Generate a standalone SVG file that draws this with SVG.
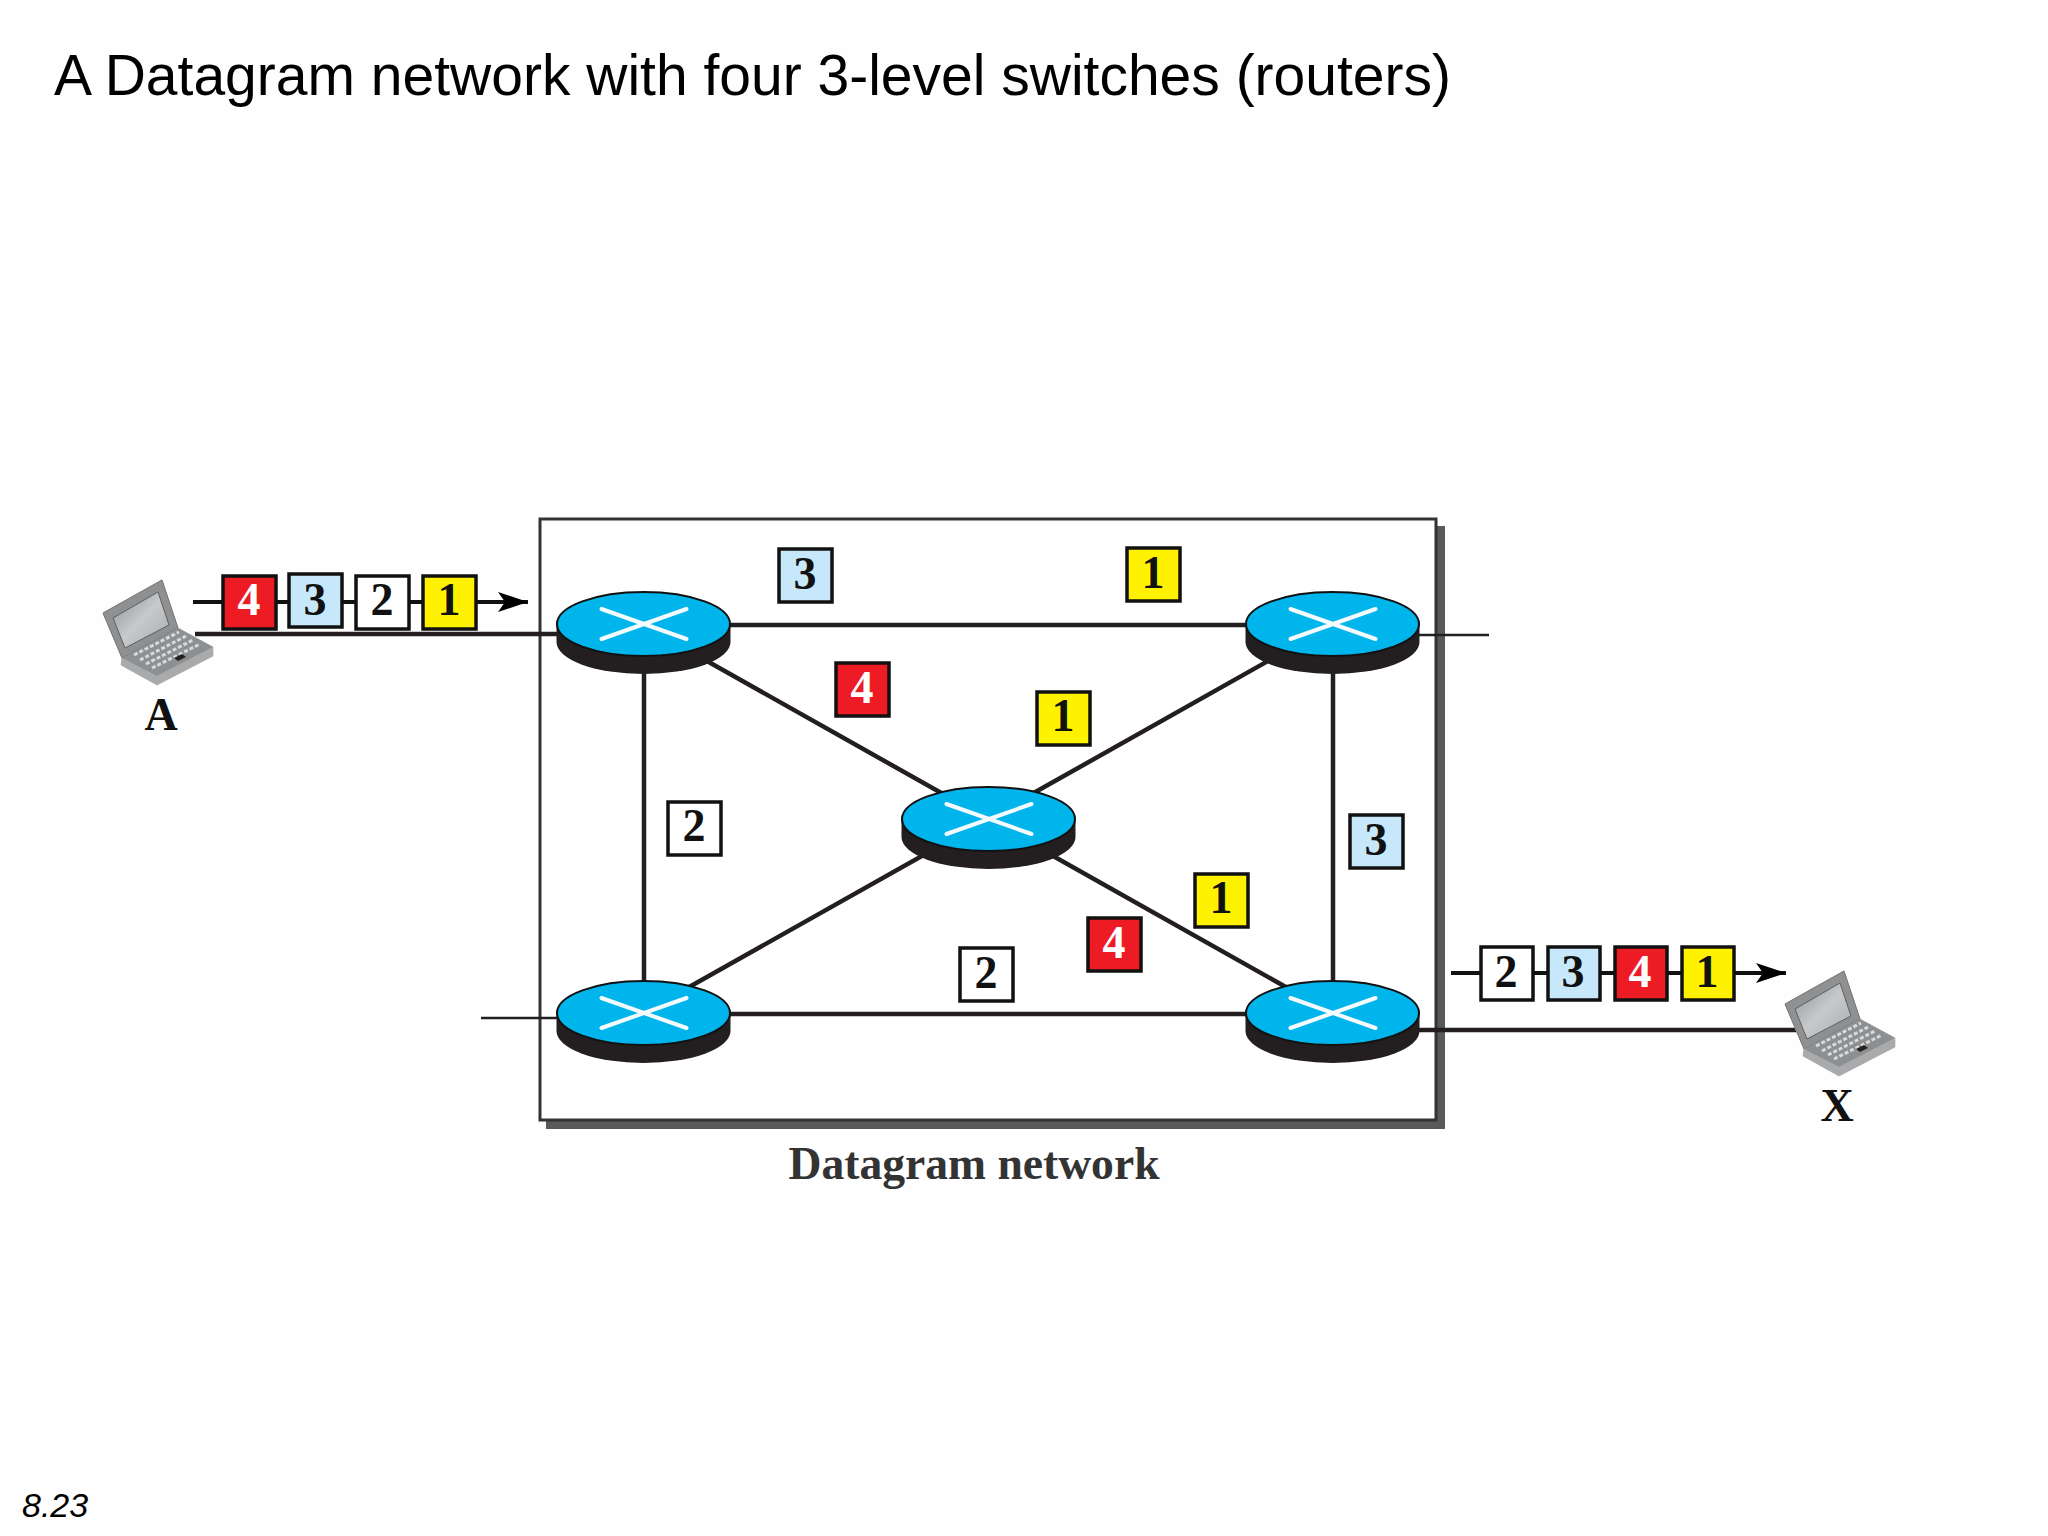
<svg xmlns="http://www.w3.org/2000/svg" width="2048" height="1536" viewBox="0 0 2048 1536">
<style>
.l{stroke:#231f20;fill:none}
.t{font-family:"Liberation Serif",serif;font-weight:bold;text-anchor:middle;fill:#111}
.p{font-size:46px}
.w{fill:#fff}
.box{stroke:#111;stroke-width:3.5}
.red{fill:#ed1c24}.blue{fill:#c7e8fa}.white{fill:#fff}.yellow{fill:#fff200}
.s{font-family:"Liberation Sans",Arial,sans-serif;fill:#000}
</style>
<defs>
<marker id="ah" markerUnits="userSpaceOnUse" markerWidth="32" markerHeight="22" refX="30" refY="10" orient="auto"><path d="M0 0L30 10L0 20L7 10Z" fill="#000"/></marker>
<linearGradient id="scr" x1="0" y1="0" x2="1" y2="1"><stop offset="0" stop-color="#8f9092"/><stop offset="0.5" stop-color="#c8c9cb"/><stop offset="1" stop-color="#a9aaac"/></linearGradient>
<g id="router">
<path d="M-87 0V18A87 32 0 0 0 87 18V0Z" fill="#231f20"/>
<ellipse rx="86.5" ry="32" fill="#00b5ec" stroke="#111" stroke-width="2"/>
<path d="M-42 -15L43 15M-42 15L43 -15" stroke="#f4fbff" stroke-width="4" stroke-linecap="round"/>
</g>
<g id="laptop">
<path d="M0 33L59 0L75 48L110 67L110 76L54 105L18 85L19 78Z" fill="#a2a3a5" stroke="#c4c5c7" stroke-width="1"/>
<path d="M0 33L59 0L75 48L19 78Z" fill="#8f9092" stroke="#77787a" stroke-width="1"/>
<path d="M10 38L55 12L66 45L22 68Z" fill="url(#scr)" stroke="#5e5f61" stroke-width="1"/>
<path d="M19 78L75 48L110 67L54 96Z" fill="#8e8f91"/>
<path d="M31 75L76 52M37 80L83 56M43 84L90 60M49 88L97 64" stroke="#d8d9da" stroke-width="3" stroke-dasharray="4 2" fill="none"/>
<path d="M18 85L54 105L110 76L110 67L54 96L19 78Z" fill="#a9aaac"/>
<path d="M71 78L79 74L83 77L75 81Z" fill="#222"/>
</g>
</defs>
<rect width="2048" height="1536" fill="#fefefe"/>
<text class="s" x="54" y="95" font-size="57">A Datagram network with four 3-level switches (routers)</text>
<text class="s" x="22" y="1517" font-size="34" font-style="italic">8.23</text>

<g id="network-frame">
<path d="M1436 526H1445V1129H546V1120H1436Z" fill="#58595b"/>
<rect x="540" y="519" width="896" height="601" fill="#fff" stroke="#333" stroke-width="3"/>
<text class="t" x="974" y="1179" font-size="45.6" style="fill:#333">Datagram network</text>
</g>

<g id="connectors">
<path class="l" stroke-width="4.5" d="M643 625H1332M643 1014H1332M644 640V1000M1333 640V1000M643 625L1332 1013M1332 625L643 1013"/>
<path class="l" stroke-width="4.5" d="M195 634H560M1400 1030H1800"/>
<path class="l" stroke-width="2.5" d="M481 1018H570M1410 635H1489"/>
<path class="l" stroke-width="4" d="M193 602H528" style="stroke:#111" marker-end="url(#ah)"/>
<path class="l" stroke-width="4" d="M1451 973H1786" style="stroke:#111" marker-end="url(#ah)"/>
</g>

<g id="router-tl"><use href="#router" x="643.5" y="624"/></g>
<g id="router-tr"><use href="#router" x="1332.5" y="624"/></g>
<g id="router-c"><use href="#router" x="988.5" y="819"/></g>
<g id="router-bl"><use href="#router" x="643.5" y="1013"/></g>
<g id="router-br"><use href="#router" x="1332.5" y="1013"/></g>

<g id="host-a"><use href="#laptop" x="103" y="580"/><text class="t" x="161" y="730" font-size="46">A</text></g>
<g id="host-x"><use href="#laptop" x="1785" y="971"/><text class="t" x="1837" y="1121" font-size="46">X</text></g>

<g id="packets-in">
<g><rect class="box red" x="223" y="576" width="53" height="53"/><text class="t p w" style="fill:#fff" x="249" y="615">4</text></g>
<g><rect class="box blue" x="289" y="574" width="53" height="53"/><text class="t p" x="315" y="615">3</text></g>
<g><rect class="box white" x="356" y="576" width="53" height="53"/><text class="t p" x="382" y="615">2</text></g>
<g><rect class="box yellow" x="423" y="576" width="53" height="53"/><text class="t p" x="449" y="615">1</text></g>
</g>
<g id="packets-out">
<g><rect class="box white" x="1481" y="947" width="52" height="53"/><text class="t p" x="1506" y="987">2</text></g>
<g><rect class="box blue" x="1548" y="947" width="52" height="53"/><text class="t p" x="1573" y="987">3</text></g>
<g><rect class="box red" x="1615" y="947" width="52" height="53"/><text class="t p w" style="fill:#fff" x="1640" y="987">4</text></g>
<g><rect class="box yellow" x="1682" y="947" width="52" height="53"/><text class="t p" x="1707" y="987">1</text></g>
</g>
<g id="packets-net">
<g><rect class="box blue" x="779" y="549" width="53" height="53"/><text class="t p" x="805" y="589">3</text></g>
<g><rect class="box yellow" x="1127" y="548" width="53" height="53"/><text class="t p" x="1153" y="588">1</text></g>
<g><rect class="box red" x="836" y="663" width="53" height="53"/><text class="t p w" style="fill:#fff" x="862" y="703">4</text></g>
<g><rect class="box yellow" x="1037" y="692" width="53" height="53"/><text class="t p" x="1063" y="731">1</text></g>
<g><rect class="box white" x="668" y="802" width="53" height="53"/><text class="t p" x="694" y="841">2</text></g>
<g><rect class="box blue" x="1350" y="815" width="53" height="53"/><text class="t p" x="1376" y="855">3</text></g>
<g><rect class="box yellow" x="1195" y="874" width="53" height="53"/><text class="t p" x="1221" y="913">1</text></g>
<g><rect class="box red" x="1088" y="918" width="53" height="53"/><text class="t p w" style="fill:#fff" x="1114" y="958">4</text></g>
<g><rect class="box white" x="960" y="948" width="53" height="53"/><text class="t p" x="986" y="988">2</text></g>
</g>
</svg>
